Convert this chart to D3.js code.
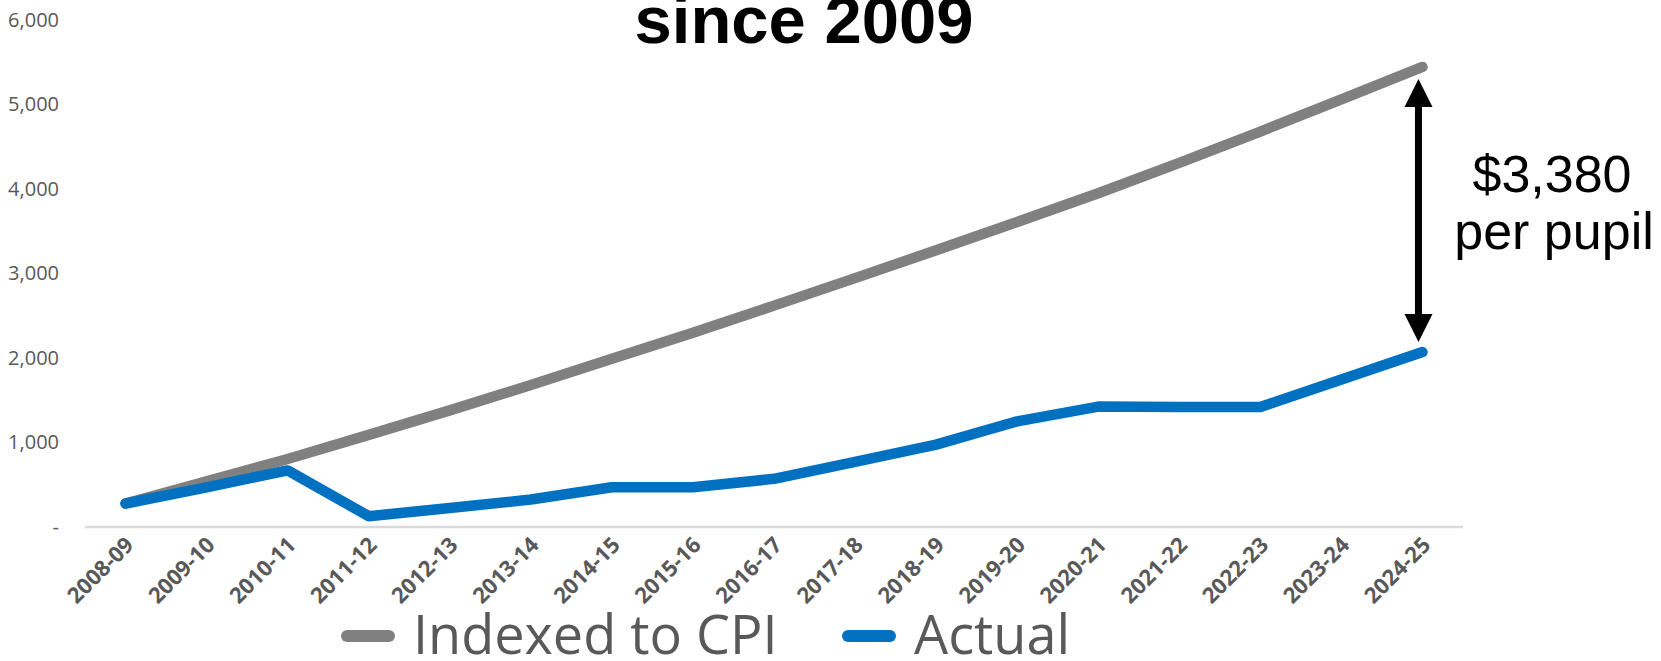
<!DOCTYPE html>
<html>
<head>
<meta charset="utf-8">
<script src="https://cdn.jsdelivr.net/npm/d3@7"></script>
<style>
    html, body { margin: 0; padding: 0; background: #fff; overflow: hidden; }
    svg { display: block; }
</style>
</head>
<body>
<div id="chart"></div>
<script>
//school years on the category axis
var years = ['2008-09','2009-10','2010-11','2011-12','2012-13','2013-14','2014-15','2015-16',
    '2016-17','2017-18','2018-19','2019-20','2020-21','2021-22','2022-23','2023-24','2024-25'];

//per pupil increase since 2009
var indexedToCpi = [278, 540, 805, 1090, 1380, 1680, 1990, 2300, 2620, 2945, 3275, 3610, 3950, 4310, 4680, 5060, 5445];
var actual = [278, 470, 670, 128, 225, 325, 470, 470, 570, 770, 975, 1250, 1425, 1420, 1420, 1745, 2070];

var yTicks = [0, 1000, 2000, 3000, 4000, 5000, 6000];
var seriesNames = ['Indexed to CPI', 'Actual'];
var seriesColors = ['#808080', '#0070c0'];

var titleText = 'since 2009';
var gapLabel = ['$3,380', 'per pupil'];

var width = 1661,
    height = 661;

var svg = d3.select('#chart')
    .append('svg')
    .attr('width', width)
    .attr('height', height);

var x = d3.scalePoint()
    .domain(years)
    .range([85, 1463])
    .padding(0.5);

var y = d3.scaleLinear()
    .domain([0, 6000])
    .range([527, 20]);

//title, only its last line is in frame
svg.append('text')
    .attr('x', 804)
    .attr('y', 43)
    .attr('text-anchor', 'middle')
    .style('font-family', '"Liberation Sans", Arial, sans-serif')
    .style('font-weight', 'bold')
    .style('font-size', '67px')
    .style('fill', '#000')
    .text(titleText);

//value axis: labels only, zero shown as a dash
var yAxis = svg.append('g')
    .attr('transform', 'translate(85,0)')
    .call(d3.axisLeft(y)
        .tickValues(yTicks)
        .tickSize(0)
        .tickPadding(26)
        .tickFormat(function(d){ return d === 0 ? '-' : d3.format(',')(d); }));
yAxis.select('.domain').remove();
yAxis.selectAll('text')
    .style('font-family', '"Open Sans", sans-serif')
    .style('font-size', '20px')
    .style('fill', '#595959');

//category axis line
svg.append('line')
    .attr('x1', x.range()[0])
    .attr('x2', x.range()[1])
    .attr('y1', y(0))
    .attr('y2', y(0))
    .style('stroke', '#d9d9d9')
    .style('stroke-width', 2.5);

svg.append('g')
    .selectAll('text')
    .data(years)
    .enter()
    .append('text')
    .attr('transform', function(d){ return 'translate(' + (x(d) + 4) + ',' + (y(0) + 14) + ') rotate(-45)'; })
    .attr('text-anchor', 'end')
    .attr('dy', '0.35em')
    .style('font-family', '"Open Sans", sans-serif')
    .style('font-weight', 'bold')
    .style('font-size', '22px')
    .style('fill', '#595959')
    .text(function(d){ return d; });

//the two series
var line = d3.line()
    .x(function(d, i){ return x(years[i]); })
    .y(function(d){ return y(d); });

[indexedToCpi, actual].forEach(function(values, i){
    svg.append('path')
        .datum(values)
        .attr('d', line)
        .style('fill', 'none')
        .style('stroke', seriesColors[i])
        .style('stroke-width', 10.5)
        .style('stroke-linecap', 'round')
        .style('stroke-linejoin', 'round');
});

//double arrow marking the gap in the last year
var last = years[years.length - 1],
    arrowX = x(last) - 4,
    arrowTop = y(indexedToCpi[indexedToCpi.length - 1]) + 12,
    arrowBottom = y(actual[actual.length - 1]) - 10,
    head = 28,
    half = 14;

svg.append('line')
    .attr('x1', arrowX)
    .attr('x2', arrowX)
    .attr('y1', arrowTop + head - 2)
    .attr('y2', arrowBottom - head + 2)
    .style('stroke', '#000')
    .style('stroke-width', 7);

svg.append('path')
    .attr('d', 'M' + arrowX + ',' + arrowTop + 'L' + (arrowX + half) + ',' + (arrowTop + head) + 'L' + (arrowX - half) + ',' + (arrowTop + head) + 'Z')
    .style('fill', '#000');
svg.append('path')
    .attr('d', 'M' + arrowX + ',' + arrowBottom + 'L' + (arrowX + half) + ',' + (arrowBottom - head) + 'L' + (arrowX - half) + ',' + (arrowBottom - head) + 'Z')
    .style('fill', '#000');

svg.append('text')
    .attr('x', 1552)
    .attr('y', 192)
    .attr('text-anchor', 'middle')
    .style('font-family', '"Liberation Sans", Arial, sans-serif')
    .style('font-size', '52px')
    .style('fill', '#000')
    .text(gapLabel[0]);
svg.append('text')
    .attr('x', 1554)
    .attr('y', 249)
    .attr('text-anchor', 'middle')
    .style('font-family', '"Liberation Sans", Arial, sans-serif')
    .style('font-size', '52px')
    .style('fill', '#000')
    .text(gapLabel[1]);

//legend under the axis labels
var legendX = [341, 842];
var legend = svg.append('g')
    .selectAll('g')
    .data(seriesNames)
    .enter()
    .append('g')
    .attr('transform', function(d, i){ return 'translate(' + legendX[i] + ',636)'; });

legend.append('line')
    .attr('x1', 6)
    .attr('x2', 48)
    .style('stroke', function(d, i){ return seriesColors[i]; })
    .style('stroke-width', 12)
    .style('stroke-linecap', 'round');

legend.append('text')
    .attr('x', 72)
    .attr('y', 18)
    .style('font-family', '"Open Sans", sans-serif')
    .style('font-size', '54px')
    .style('fill', '#595959')
    .text(function(d){ return d; });
</script>
</body>
</html>
